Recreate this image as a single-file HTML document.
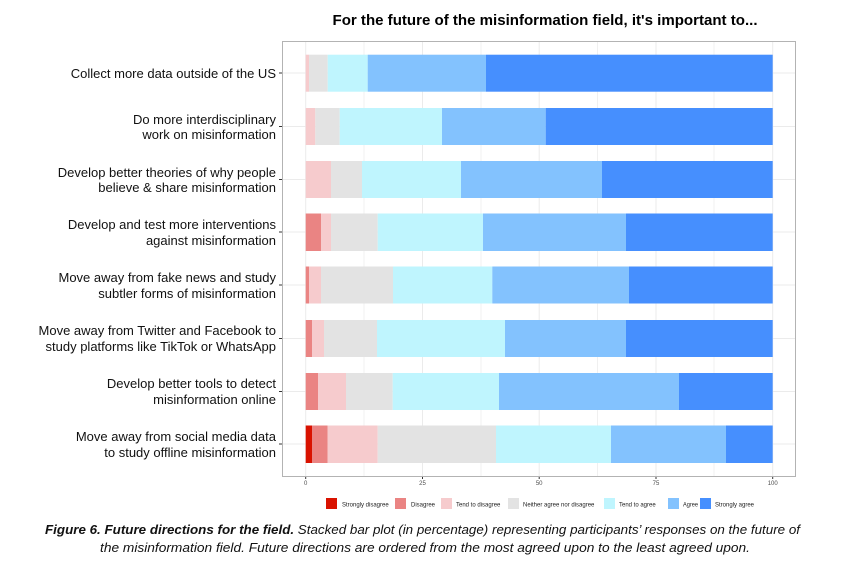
<!DOCTYPE html>
<html><head><meta charset="utf-8"><style>
html,body{margin:0;padding:0;background:#fff;}
svg{display:block;font-family:"Liberation Sans",Arial,sans-serif;}
</style></head><body>
<svg width="846" height="565" viewBox="0 0 846 565">
<text x="545" y="25" text-anchor="middle" font-size="15" font-weight="bold" fill="#000" textLength="425" lengthAdjust="spacingAndGlyphs">For the future of the misinformation field, it's important to...</text>
<rect x="282.5" y="41.5" width="513" height="435" fill="#fff" stroke="#b3b3b3" stroke-width="1"/>
<g stroke="#f0f0f0" stroke-width="1">
<line x1="364" y1="42" x2="364" y2="476"/><line x1="481" y1="42" x2="481" y2="476"/><line x1="597.5" y1="42" x2="597.5" y2="476"/><line x1="714" y1="42" x2="714" y2="476"/>
</g>
<g stroke="#ebebeb" stroke-width="1">
<line x1="305.7" y1="42" x2="305.7" y2="476"/><line x1="422.5" y1="42" x2="422.5" y2="476"/><line x1="539.2" y1="42" x2="539.2" y2="476"/><line x1="656" y1="42" x2="656" y2="476"/><line x1="772.7" y1="42" x2="772.7" y2="476"/>
<line x1="283" y1="73" x2="795" y2="73"/><line x1="283" y1="126.5" x2="795" y2="126.5"/><line x1="283" y1="179.5" x2="795" y2="179.5"/><line x1="283" y1="232" x2="795" y2="232"/><line x1="283" y1="285" x2="795" y2="285"/><line x1="283" y1="338.5" x2="795" y2="338.5"/><line x1="283" y1="391.5" x2="795" y2="391.5"/><line x1="283" y1="444" x2="795" y2="444"/>
</g>
<g>
<rect x="305.7" y="54.7" width="3.3" height="37" fill="#f6cbcd"/><rect x="309" y="54.7" width="18.7" height="37" fill="#e3e3e3"/><rect x="327.7" y="54.7" width="40" height="37" fill="#bff5fe"/><rect x="367.7" y="54.7" width="118.3" height="37" fill="#83c2fe"/><rect x="486" y="54.7" width="286.7" height="37" fill="#468ffe"/>

<rect x="305.7" y="108" width="9.6" height="37" fill="#f6cbcd"/><rect x="315.3" y="108" width="24.4" height="37" fill="#e3e3e3"/><rect x="339.7" y="108" width="102.3" height="37" fill="#bff5fe"/><rect x="442" y="108" width="103.7" height="37" fill="#83c2fe"/><rect x="545.7" y="108" width="227" height="37" fill="#468ffe"/>

<rect x="305.7" y="161" width="25.3" height="37" fill="#f6cbcd"/><rect x="331" y="161" width="31" height="37" fill="#e3e3e3"/><rect x="362" y="161" width="99" height="37" fill="#bff5fe"/><rect x="461" y="161" width="141" height="37" fill="#83c2fe"/><rect x="602" y="161" width="170.7" height="37" fill="#468ffe"/>

<rect x="305.7" y="213.5" width="15.3" height="37.5" fill="#ea8483"/><rect x="321" y="213.5" width="10" height="37.5" fill="#f6cbcd"/><rect x="331" y="213.5" width="46.7" height="37.5" fill="#e3e3e3"/><rect x="377.7" y="213.5" width="105.3" height="37.5" fill="#bff5fe"/><rect x="483" y="213.5" width="143" height="37.5" fill="#83c2fe"/><rect x="626" y="213.5" width="146.7" height="37.5" fill="#468ffe"/>

<rect x="305.7" y="266.5" width="3.3" height="37" fill="#ea8483"/><rect x="309" y="266.5" width="12" height="37" fill="#f6cbcd"/><rect x="321" y="266.5" width="72" height="37" fill="#e3e3e3"/><rect x="393" y="266.5" width="99.3" height="37" fill="#bff5fe"/><rect x="492.3" y="266.5" width="136.7" height="37" fill="#83c2fe"/><rect x="629" y="266.5" width="143.7" height="37" fill="#468ffe"/>

<rect x="305.7" y="320" width="6.3" height="37" fill="#ea8483"/><rect x="312" y="320" width="12" height="37" fill="#f6cbcd"/><rect x="324" y="320" width="53" height="37" fill="#e3e3e3"/><rect x="377" y="320" width="128" height="37" fill="#bff5fe"/><rect x="505" y="320" width="121" height="37" fill="#83c2fe"/><rect x="626" y="320" width="146.7" height="37" fill="#468ffe"/>

<rect x="305.7" y="373" width="12.3" height="37" fill="#ea8483"/><rect x="318" y="373" width="28" height="37" fill="#f6cbcd"/><rect x="346" y="373" width="46.7" height="37" fill="#e3e3e3"/><rect x="392.7" y="373" width="106.3" height="37" fill="#bff5fe"/><rect x="499" y="373" width="180" height="37" fill="#83c2fe"/><rect x="679" y="373" width="93.7" height="37" fill="#468ffe"/>

<rect x="305.7" y="425.5" width="6.3" height="37.5" fill="#d91200"/><rect x="312" y="425.5" width="15.7" height="37.5" fill="#ea8483"/><rect x="327.7" y="425.5" width="50" height="37.5" fill="#f6cbcd"/><rect x="377.7" y="425.5" width="118.3" height="37.5" fill="#e3e3e3"/><rect x="496" y="425.5" width="115" height="37.5" fill="#bff5fe"/><rect x="611" y="425.5" width="115" height="37.5" fill="#83c2fe"/><rect x="726" y="425.5" width="46.7" height="37.5" fill="#468ffe"/>
</g>
<g stroke="#333" stroke-width="1">
<line x1="279" y1="73" x2="282" y2="73"/><line x1="279" y1="126.5" x2="282" y2="126.5"/><line x1="279" y1="179.5" x2="282" y2="179.5"/><line x1="279" y1="232" x2="282" y2="232"/><line x1="279" y1="285" x2="282" y2="285"/><line x1="279" y1="338.5" x2="282" y2="338.5"/><line x1="279" y1="391.5" x2="282" y2="391.5"/><line x1="279" y1="444" x2="282" y2="444"/>
<line x1="305.7" y1="477" x2="305.7" y2="479"/><line x1="422.5" y1="477" x2="422.5" y2="479"/><line x1="539.2" y1="477" x2="539.2" y2="479"/><line x1="656" y1="477" x2="656" y2="479"/><line x1="772.7" y1="477" x2="772.7" y2="479"/>
</g>
<g font-size="13" fill="#111" text-anchor="end">
<text x="276" y="78">Collect more data outside of the US</text>
<text x="276" y="124">Do more interdisciplinary</text><text x="276" y="139">work on misinformation</text>
<text x="276" y="177">Develop better theories of why people</text><text x="276" y="192">believe &amp; share misinformation</text>
<text x="276" y="229">Develop and test more interventions</text><text x="276" y="245">against misinformation</text>
<text x="276" y="282">Move away from fake news and study</text><text x="276" y="298">subtler forms of misinformation</text>
<text x="276" y="335">Move away from Twitter and Facebook to</text><text x="276" y="351">study platforms like TikTok or WhatsApp</text>
<text x="276" y="388">Develop better tools to detect</text><text x="276" y="404">misinformation online</text>
<text x="276" y="441">Move away from social media data</text><text x="276" y="457">to study offline misinformation</text>
</g>
<g font-size="6" fill="#4d4d4d" text-anchor="middle">
<text x="305.7" y="485">0</text><text x="422.5" y="485">25</text><text x="539.2" y="485">50</text><text x="656" y="485">75</text><text x="772.7" y="485">100</text>
</g>
<g font-size="6" fill="#222">
<rect x="326" y="498" width="11" height="11" fill="#d91200"/><text x="342" y="506.5">Strongly disagree</text>
<rect x="395" y="498" width="11" height="11" fill="#ea8483"/><text x="411" y="506.5">Disagree</text>
<rect x="441" y="498" width="11" height="11" fill="#f6cbcd"/><text x="456" y="506.5">Tend to disagree</text>
<rect x="508" y="498" width="11" height="11" fill="#e3e3e3"/><text x="523" y="506.5">Neither agree nor disagree</text>
<rect x="604" y="498" width="11" height="11" fill="#bff5fe"/><text x="619" y="506.5">Tend to agree</text>
<rect x="668" y="498" width="11" height="11" fill="#83c2fe"/><text x="683" y="506.5" textLength="15" lengthAdjust="spacingAndGlyphs">Agree</text>
<rect x="700" y="498" width="11" height="11" fill="#468ffe"/><text x="715" y="506.5">Strongly agree</text>
</g>
<g font-size="13" font-style="italic" fill="#111">
<text x="45" y="534" textLength="755" lengthAdjust="spacingAndGlyphs"><tspan font-weight="bold">Figure 6. Future directions for the field.</tspan> Stacked bar plot (in percentage) representing participants’ responses on the future of</text>
<text x="100" y="552" textLength="650" lengthAdjust="spacingAndGlyphs">the misinformation field. Future directions are ordered from the most agreed upon to the least agreed upon.</text>
</g>
</svg>
</body></html>
